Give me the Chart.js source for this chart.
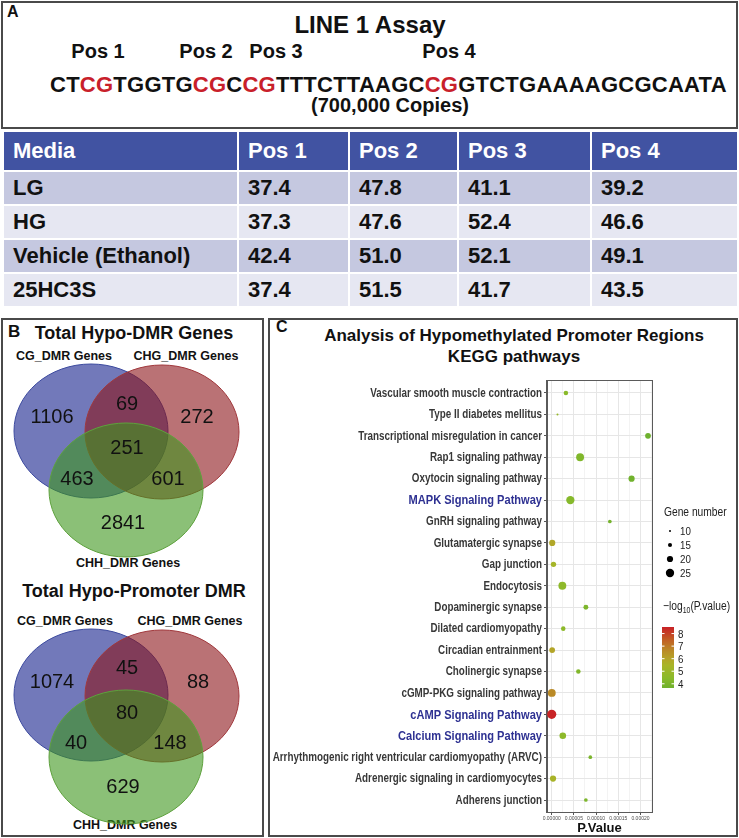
<!DOCTYPE html>
<html>
<head>
<meta charset="utf-8">
<script src="https://cdn.jsdelivr.net/npm/chart.js@4.4.1/dist/chart.umd.min.js"></script>
<style>
  body { margin: 0; background: #fff; font-family: "Liberation Sans", Arial, sans-serif; }
  #page { position: relative; width: 739px; height: 838px; overflow: hidden; }
  .box { position: absolute; border: 2px solid #4a4a4a; box-sizing: border-box; }
  .t { position: absolute; white-space: nowrap; font-weight: bold; color: #111; }
  .c { transform: translateX(-50%); }
  .lab { position: absolute; font-weight: bold; font-size: 16px; color: #111; }
  #seq .r { color: #C8202A; }
  table { position: absolute; left: 2px; top: 130px; width: 735px; height: 178px; border-collapse: collapse;
          table-layout: fixed; font-weight: bold; font-size: 22px; color: #111; }
  td, th { border: 2px solid #fff; text-align: left; padding: 0 0 0 9px; }
  th { background: #4153A2; color: #fff; height: 38px; }
  tr.d td { background: #C5C8E0; }
  tr.l td { background: #E6E7F2; }
  canvas { position: absolute; }
</style>
</head>
<body>
<div id="page">
  <!-- Panel A -->
  <div class="box" style="left:1px;top:1px;width:737px;height:128px;"></div>
  <div class="lab" style="left:7px;top:3px;">A</div>
  <div class="t c" style="left:370px;top:11px;font-size:24px;">LINE 1 Assay</div>
  <div class="t c" style="left:98px;top:40px;font-size:20px;">Pos 1</div>
  <div class="t c" style="left:206px;top:40px;font-size:20px;">Pos 2</div>
  <div class="t c" style="left:276px;top:40px;font-size:20px;">Pos 3</div>
  <div class="t c" style="left:449px;top:40px;font-size:20px;">Pos 4</div>
  <div class="t" id="seq" style="left:50px;top:72px;font-size:22px;letter-spacing:0.25px;">CT<span class="r">CG</span>TGGTG<span class="r">CG</span>C<span class="r">CG</span>TTTCTTAAGC<span class="r">CG</span>GTCTGAAAAGCGCAATA</div>
  <div class="t c" style="left:390px;top:94px;font-size:20px;">(700,000 Copies)</div>

  <table id="assay"></table>

  <!-- Panel B -->
  <div class="box" style="left:1px;top:318px;width:263px;height:519px;"></div>
  <div class="lab" style="left:8px;top:322px;font-size:17px;">B</div>
  <div class="t c" style="left:134px;top:323px;font-size:18px;">Total Hypo-DMR Genes</div>
  <div class="t c" style="left:64px;top:349px;font-size:12.5px;">CG_DMR Genes</div>
  <div class="t c" style="left:186px;top:349px;font-size:12.5px;">CHG_DMR Genes</div>
  <div class="t c" style="left:128px;top:556px;font-size:12.5px;">CHH_DMR Genes</div>
  <div class="t c" style="left:134px;top:581px;font-size:18px;">Total Hypo-Promoter DMR</div>
  <div class="t c" style="left:65px;top:614px;font-size:12.5px;">CG_DMR Genes</div>
  <div class="t c" style="left:190px;top:614px;font-size:12.5px;">CHG_DMR Genes</div>
  <div class="t c" style="left:125px;top:818px;font-size:12.5px;">CHH_DMR Genes</div>
  <canvas id="venn1" width="256" height="232" style="left:4px;top:340px;"></canvas>
  <canvas id="venn2" width="256" height="232" style="left:4px;top:600px;"></canvas>

  <!-- Panel C -->
  <div class="box" style="left:268px;top:318px;width:470px;height:519px;"></div>
  <div class="lab" style="left:276px;top:318px;">C</div>
  <div class="t c" style="left:514px;top:326px;font-size:17px;">Analysis of Hypomethylated Promoter Regions</div>
  <div class="t c" style="left:514px;top:347px;font-size:17px;">KEGG pathways</div>
  <canvas id="kegg" width="466" height="464" style="left:269px;top:372px;"></canvas>
</div>

<script>
// ---- Panel A: LINE 1 methylation table ----
const mediaNames = ['LG', 'HG', 'Vehicle (Ethanol)', '25HC3S'];
const positions = ['Pos 1', 'Pos 2', 'Pos 3', 'Pos 4'];
const pos1 = [37.4, 37.3, 42.4, 37.4];
const pos2 = [47.8, 47.6, 51.0, 51.5];
const pos3 = [41.1, 52.4, 52.1, 41.7];
const pos4 = [39.2, 46.6, 49.1, 43.5];

// ---- Panel B: Venn counts (CG only, CG∩CHG, CHG only, CG∩CHH, all, CHG∩CHH, CHH only) ----
const hypoDmrCounts = [1106, 69, 272, 463, 251, 601, 2841];
const promoterDmrCounts = [1074, 45, 88, 40, 80, 148, 629];

// ---- Panel C: KEGG pathway enrichment ----
const pathways = [
  'Vascular smooth muscle contraction',
  'Type II diabetes mellitus',
  'Transcriptional misregulation in cancer',
  'Rap1 signaling pathway',
  'Oxytocin signaling pathway',
  'MAPK Signaling Pathway',
  'GnRH signaling pathway',
  'Glutamatergic synapse',
  'Gap junction',
  'Endocytosis',
  'Dopaminergic synapse',
  'Dilated cardiomyopathy',
  'Circadian entrainment',
  'Cholinergic synapse',
  'cGMP-PKG signaling pathway',
  'cAMP Signaling Pathway',
  'Calcium Signaling Pathway',
  'Arrhythmogenic right ventricular cardiomyopathy (ARVC)',
  'Adrenergic signaling in cardiomyocytes',
  'Adherens junction'
];
const pValues = [3.2e-5, 1.3e-5, 2.17e-4, 6.4e-5, 1.8e-4, 4.2e-5, 1.31e-4, 1.2e-6, 4.0e-6, 2.4e-5,
                 7.7e-5, 2.6e-5, 1.0e-6, 6.0e-5, 2.0e-7, 3.0e-9, 2.5e-5, 8.7e-5, 3.0e-6, 7.7e-5];
const geneCounts = [16, 10, 19, 24, 20, 25, 14, 20, 18, 24, 17, 16, 19, 16, 24, 27, 21, 14, 20, 14];
const highlighted = ['MAPK Signaling Pathway', 'cAMP Signaling Pathway', 'Calcium Signaling Pathway'];
const xTickValues = [0, 0.00005, 0.0001, 0.00015, 0.0002];
const sizeLegendValues = [10, 15, 20, 25];
const colorLegendValues = [8, 7, 6, 5, 4];

// build the table
const table = document.getElementById('assay');
let html = '<colgroup>' + [235, 111, 109, 133, 147].map(w => `<col style="width:${w}px">`).join('') + '</colgroup>';
html += '<tr><th>Media</th>' + positions.map(p => `<th>${p}</th>`).join('') + '</tr>';
mediaNames.forEach((m, i) => {
  html += `<tr class="${i % 2 ? 'l' : 'd'}"><td>${m}</td><td>${pos1[i].toFixed(1)}</td><td>${pos2[i].toFixed(1)}</td><td>${pos3[i].toFixed(1)}</td><td>${pos4[i].toFixed(1)}</td></tr>`;
});
table.innerHTML = html;

// ---- Venn diagrams ----
const vennFills = ['rgba(20,32,140,0.6)', 'rgba(140,20,25,0.6)', 'rgba(62,150,28,0.6)'];
const vennEdges = ['#3C4A9E', '#A0383C', '#5DA03C'];

function vennPlugin(ellipses) {
  return {
    id: 'venn',
    beforeDatasetsDraw(chart) {
      const { ctx, scales: { x, y } } = chart;
      ellipses.forEach((e, i) => {
        const cx = x.getPixelForValue(e[0]), cy = y.getPixelForValue(e[1]);
        const rx = x.getPixelForValue(e[0] + e[2]) - cx, ry = Math.abs(y.getPixelForValue(e[1] + e[3]) - cy);
        ctx.save();
        ctx.beginPath();
        ctx.ellipse(cx, cy, rx, ry, 0, 0, Math.PI * 2);
        ctx.fillStyle = vennFills[i];
        ctx.fill();
        ctx.lineWidth = 1;
        ctx.strokeStyle = vennEdges[i];
        ctx.stroke();
        ctx.restore();
      });
    },
    afterDatasetsDraw(chart) {
      const { ctx } = chart;
      const meta = chart.getDatasetMeta(0);
      ctx.save();
      ctx.font = '20px "Liberation Sans", Arial, sans-serif';
      ctx.fillStyle = '#111';
      ctx.textAlign = 'center';
      ctx.textBaseline = 'middle';
      meta.data.forEach((pt, i) => ctx.fillText(String(chart.data.datasets[0].data[i].n), pt.x, pt.y));
      ctx.restore();
    }
  };
}

function vennChart(id, counts, spots, ellipses) {
  new Chart(document.getElementById(id), {
    type: 'scatter',
    data: { datasets: [{ data: counts.map((n, i) => ({ x: spots[i][0], y: spots[i][1], n })), pointRadius: 0 }] },
    options: {
      responsive: false, animation: false, events: [],
      layout: { padding: 0 },
      plugins: { legend: { display: false }, tooltip: { enabled: false } },
      scales: {
        x: { display: false, min: 0, max: 256 },
        y: { display: false, min: 0, max: 232, reverse: true }
      }
    },
    plugins: [vennPlugin(ellipses)]
  });
}

vennChart('venn1', hypoDmrCounts,
  [[48, 77], [123, 64], [193, 77], [73, 139], [123, 108], [164, 139], [119, 183]],
  [[87, 91, 77, 67], [158, 92, 77, 67], [122, 150, 77, 67]]);
vennChart('venn2', promoterDmrCounts,
  [[48, 82], [123, 68], [194, 82], [72, 143], [123, 113], [166, 143], [119, 187]],
  [[87, 95, 77, 66], [158, 96, 77, 66], [122, 157, 77, 67]]);

// ---- KEGG bubble chart ----
const colorStops = [
  [3.6, [108, 176, 46]], [4.5, [138, 186, 42]], [5.5, [168, 180, 40]], [6.1, [181, 162, 40]],
  [6.8, [187, 134, 38]], [7.6, [194, 92, 36]], [8.6, [200, 30, 38]]
];
function heatColor(v) {
  if (v <= colorStops[0][0]) return `rgb(${colorStops[0][1].join(',')})`;
  for (let i = 1; i < colorStops.length; i++) {
    if (v <= colorStops[i][0]) {
      const [v0, c0] = colorStops[i - 1], [v1, c1] = colorStops[i];
      const t = (v - v0) / (v1 - v0);
      return `rgb(${c0.map((c, k) => Math.round(c + (c1[k] - c) * t)).join(',')})`;
    }
  }
  return `rgb(${colorStops[colorStops.length - 1][1].join(',')})`;
}
const sizeFor = g => 1 + (g - 10) * 0.21;
const logP = pValues.map(p => -Math.log10(p));
const logMin = Math.min(...logP), logMax = Math.max(...logP);
const FONT = '"Liberation Sans", Arial, sans-serif';

// condensed text, like the narrow face of the original figure
function narrowText(ctx, text, x, y, font, color, align, sx) {
  ctx.save();
  ctx.translate(x, y);
  ctx.scale(sx, 1);
  ctx.font = font;
  ctx.fillStyle = color;
  ctx.textAlign = align;
  ctx.textBaseline = 'middle';
  ctx.fillText(text, 0, 0);
  const w = ctx.measureText(text).width * sx;
  ctx.restore();
  return w;
}

const labelPlugin = {
  id: 'keggLabels',
  afterDraw(chart) {
    const { ctx, chartArea, scales: { y } } = chart;
    ctx.save();
    ctx.strokeStyle = '#5a5a5a';
    ctx.lineWidth = 1;
    ctx.strokeRect(chartArea.left - 0.5, chartArea.top - 0.5, chartArea.width + 1, chartArea.height + 1);
    ctx.restore();
    // pathway names on the y axis
    pathways.forEach((p, i) => {
      const hi = highlighted.includes(p);
      narrowText(ctx, p, chartArea.left - 5, y.getPixelForValue(i) + 0.5,
        `bold ${hi ? 13.5 : 12}px ${FONT}`, hi ? '#2E3192' : '#383838', 'right', 0.82);
    });
    // gene number legend
    const lx = chartArea.right + 12;
    narrowText(ctx, 'Gene number', lx, 141, `12.5px ${FONT}`, '#222', 'left', 0.82);
    sizeLegendValues.forEach((g, i) => {
      const yy = 159 + i * 14;
      ctx.beginPath();
      ctx.arc(lx + 6, yy, sizeFor(g), 0, Math.PI * 2);
      ctx.fillStyle = '#000';
      ctx.fill();
      narrowText(ctx, String(g), lx + 16, yy + 1, `11.5px ${FONT}`, '#222', 'left', 0.85);
    });
    // colour bar legend
    let w = narrowText(ctx, '\u2212log', lx - 1, 235, `12.5px ${FONT}`, '#222', 'left', 0.82);
    w += narrowText(ctx, '10', lx - 1 + w, 239, `8.5px ${FONT}`, '#222', 'left', 0.82);
    narrowText(ctx, '(P.value)', lx - 1 + w, 235, `12.5px ${FONT}`, '#222', 'left', 0.82);
    const barTop = 255, barBot = 316, bx = lx - 2, bw = 12;
    const yOf = v => barBot - (v - logMin) / (logMax - logMin) * (barBot - barTop);
    for (let yy = barTop; yy < barBot; yy++) {
      const v = logMax - (yy - barTop) / (barBot - barTop) * (logMax - logMin);
      ctx.fillStyle = heatColor(v);
      ctx.fillRect(bx, yy, bw, 1);
    }
    colorLegendValues.forEach(v => {
      const yy = yOf(v);
      ctx.fillStyle = '#fff';
      ctx.fillRect(bx, yy - 0.5, 2.5, 1);
      ctx.fillRect(bx + bw - 2.5, yy - 0.5, 2.5, 1);
      narrowText(ctx, String(v), bx + bw + 4, yy + 1, `11.5px ${FONT}`, '#222', 'left', 0.85);
    });
  }
};

const minorTicks = [];
for (let i = 0; i <= 9; i++) minorTicks.push(i * 0.000025);

new Chart(document.getElementById('kegg'), {
  type: 'scatter',
  data: {
    datasets: [{
      data: pathways.map((p, i) => ({ x: pValues[i], y: i })),
      pointRadius: ctx => sizeFor(geneCounts[ctx.dataIndex]),
      pointBackgroundColor: ctx => heatColor(logP[ctx.dataIndex]),
      pointBorderWidth: 0,
      pointHoverRadius: ctx => sizeFor(geneCounts[ctx.dataIndex])
    }]
  },
  options: {
    responsive: false, animation: false, events: [],
    layout: { padding: { top: 9, right: 83, left: 0, bottom: 0 } },
    plugins: { legend: { display: false }, tooltip: { enabled: false } },
    scales: {
      x: {
        type: 'linear', min: -0.0000106, max: 0.000226,
        afterBuildTicks: axis => { axis.ticks = minorTicks.map(v => ({ value: v })); },
        afterFit: axis => { axis.height = 24; },
        ticks: {
          autoSkip: false, maxRotation: 0, minRotation: 0, padding: 1,
          font: { size: 5, family: 'Liberation Sans' }, color: '#4D4D4D',
          callback: v => (xTickValues.some(t => Math.abs(t - v) < 1e-9) ? Number(v).toFixed(5) : '')
        },
        grid: {
          color: ctx => (ctx.index % 2 === 0 ? '#E6E6E6' : '#F3F3F3'),
          tickColor: ctx => (ctx.index % 2 === 0 ? '#555' : 'rgba(0,0,0,0)'),
          tickLength: 3
        },
        border: { display: true, color: '#5a5a5a' },
        title: { display: true, text: 'P.Value', color: '#111', padding: 0,
                 font: { size: 13, weight: 'bold', family: 'Liberation Sans' } }
      },
      y: {
        type: 'linear', min: -0.56, max: 19.56, reverse: true,
        afterBuildTicks: axis => { axis.ticks = pathways.map((p, i) => ({ value: i })); },
        afterFit: axis => { axis.width = 278; },
        ticks: { display: false },
        grid: { color: '#E6E6E6', tickColor: '#555', tickLength: 3 },
        border: { display: true, color: '#5a5a5a' }
      }
    }
  },
  plugins: [labelPlugin]
});
</script>
</body>
</html>
